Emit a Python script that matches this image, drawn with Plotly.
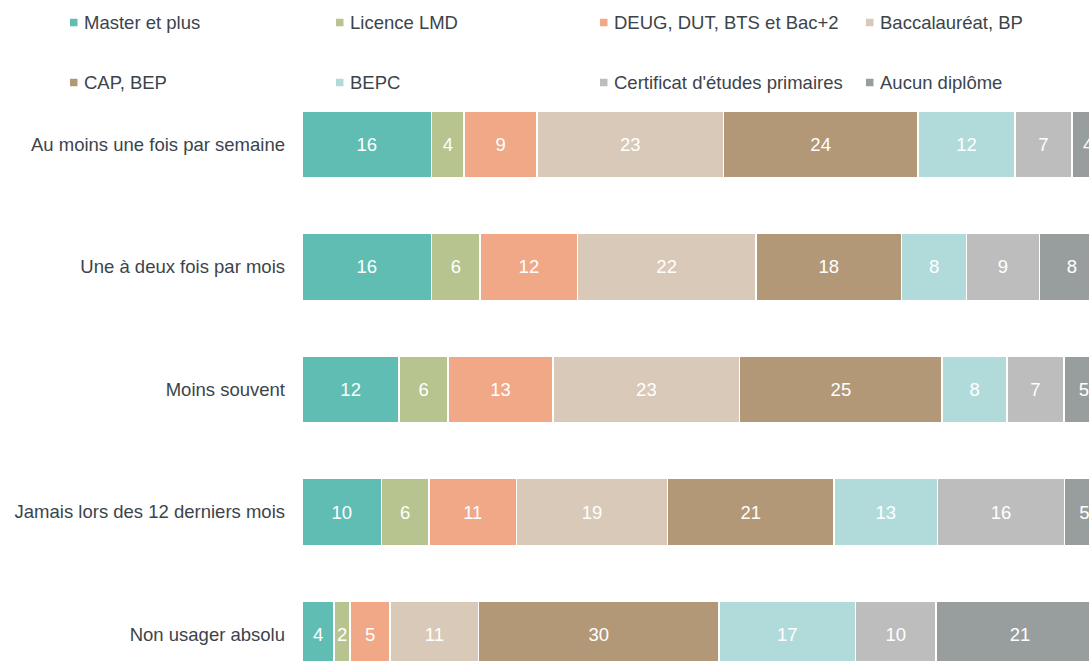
import plotly.graph_objects as go

categories = [
    "Au moins une fois par semaine",
    "Une à deux fois par mois",
    "Moins souvent",
    "Jamais lors des 12 derniers mois",
    "Non usager absolu",
]

series_names = [
    "Master et plus",
    "Licence LMD",
    "DEUG, DUT, BTS et Bac+2",
    "Baccalauréat, BP",
    "CAP, BEP",
    "BEPC",
    "Certificat d'études primaires",
    "Aucun diplôme",
]

master = [16, 16, 12, 10, 4]
licence = [4, 6, 6, 6, 2]
deug = [9, 12, 13, 11, 5]
bac = [23, 22, 23, 19, 11]
cap = [24, 18, 25, 21, 30]
bepc = [12, 8, 8, 13, 17]
certificat = [7, 9, 7, 16, 10]
aucun = [4, 8, 5, 5, 21]

series_values = [master, licence, deug, bac, cap, bepc, certificat, aucun]

colors = ["#5fbdb4", "#b7c48f", "#f0a887", "#d9c9b8", "#b39877",
          "#b1dbdb", "#bdbdbd", "#989e9d"]

FONT = "Liberation Sans, Arial, Helvetica, sans-serif"
TEXT_COLOR = "#3c444b"
FS = 18.5

W, H = 1089, 661
ML, MR, MT, MB = 302, 0, 105, 0
PW, PH = W - ML - MR, H - MT - MB

fig = go.Figure()
for name, vals, col in zip(series_names, series_values, colors):
    fig.add_trace(go.Bar(
        y=categories,
        x=vals,
        name=name,
        orientation="h",
        marker=dict(color=col, line=dict(color="white", width=1.6)),
        text=[str(v) for v in vals],
        texttemplate="%{text}",
        textposition="inside",
        insidetextanchor="middle",
        constraintext="none",
        textangle=0,
        textfont=dict(color="white", size=FS, family=FONT),
        showlegend=False,
        hoverinfo="skip",
    ))

# manual legend (two rows of four columns), positions in page pixels
def px_to_paper_x(px):
    return (px - ML) / PW

def py_to_paper_y(py):
    return (H - MB - py) / PH

marker_lefts = [70, 336, 600, 866]
row_centers = [22.5, 82.5]
shapes = []
annotations = []
for i, (name, col) in enumerate(zip(series_names, colors)):
    r, c = divmod(i, 4)
    mx = marker_lefts[c]
    cy = row_centers[r]
    shapes.append(dict(
        type="rect", xref="paper", yref="paper",
        x0=px_to_paper_x(mx), x1=px_to_paper_x(mx + 7.5),
        y0=py_to_paper_y(cy + 3.75), y1=py_to_paper_y(cy - 3.75),
        fillcolor=col, line=dict(width=0),
    ))
    annotations.append(dict(
        xref="paper", yref="paper",
        x=px_to_paper_x(mx + 12), y=py_to_paper_y(cy),
        xanchor="left", yanchor="middle",
        text=name, showarrow=False,
        font=dict(size=FS, color=TEXT_COLOR, family=FONT),
    ))

fig.update_layout(
    width=W, height=H,
    margin=dict(l=ML, r=MR, t=MT, b=MB, pad=0),
    barmode="stack",
    barnorm="percent",
    bargap=0.453,
    plot_bgcolor="white",
    paper_bgcolor="white",
    font=dict(family=FONT, size=FS, color=TEXT_COLOR),
    xaxis=dict(range=[0, 98.1], visible=False, showgrid=False, zeroline=False),
    yaxis=dict(
        type="category",
        categoryorder="array", categoryarray=categories,
        range=[4.216, -0.322],
        showgrid=False, zeroline=False, showline=False,
        ticks="", ticklabelstandoff=16,
        tickfont=dict(size=FS, color=TEXT_COLOR, family=FONT),
    ),
    shapes=shapes,
    annotations=annotations,
    showlegend=False,
)

fig.write_html(
    "out.html",
    config={"displayModeBar": False},
    post_script=(
        "document.body.style.margin='0';"
        "document.documentElement.style.overflow='hidden';"
        "document.body.style.overflow='hidden';"
    ),
)
